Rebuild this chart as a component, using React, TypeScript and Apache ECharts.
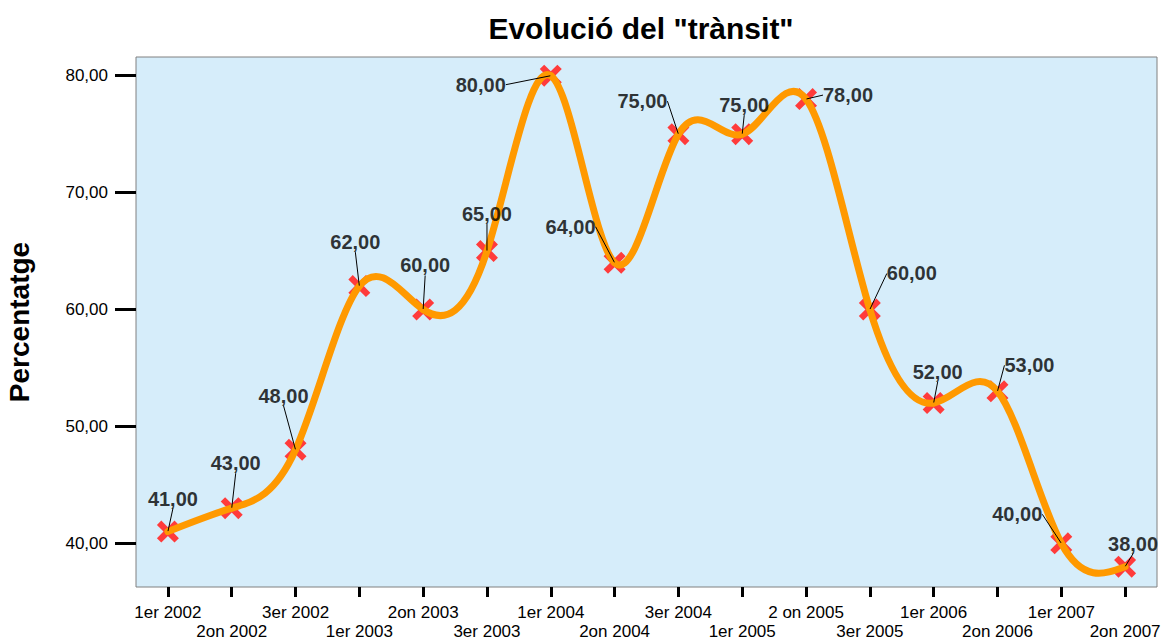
import React, { useEffect, useRef } from "react";
import * as echarts from "echarts";

const categories = [
  "1er 2002", "2on 2002", "3er 2002", "1er 2003", "2on 2003", "3er 2003",
  "1er 2004", "2on 2004", "3er 2004", "1er 2005", "2 on 2005", "3er 2005",
  "1er 2006", "2on 2006", "1er 2007", "2on 2007",
];
const values = [41, 43, 48, 62, 60, 65, 80, 64, 75, 75, 78, 60, 52, 53, 40, 38];
const yTicks = [40, 50, 60, 70, 80];

// label placement (styling): offset of each value label from its point, in px
const labelDx = [5, 4, -12, -4, 2, 0, -70, -44, -36, 2, 42, 42, 4, 32, -44, 8];
const labelDy = [-33, -45, -54, -44, -44, -37, 9, -36, -33, -29, -4, -36, -31, -26, -29, -23];

// natural cubic spline second derivatives (unit spacing) for the smooth line
function splineM(y: number[]): number[] {
  const n = y.length;
  const M = new Array(n).fill(0);
  const m = n - 2;
  if (m <= 0) return M;
  const a: number[] = [], b: number[] = [], c: number[] = [], d: number[] = [];
  for (let k = 0; k < m; k++) {
    const i = k + 1;
    a.push(1); b.push(4); c.push(1);
    d.push(6 * (y[i + 1] - 2 * y[i] + y[i - 1]));
  }
  for (let k = 1; k < m; k++) {
    const w = a[k] / b[k - 1];
    b[k] -= w * c[k - 1];
    d[k] -= w * d[k - 1];
  }
  const x = new Array(m).fill(0);
  x[m - 1] = d[m - 1] / b[m - 1];
  for (let k = m - 2; k >= 0; k--) x[k] = (d[k] - c[k] * x[k + 1]) / b[k];
  for (let k = 0; k < m; k++) M[k + 1] = x[k];
  return M;
}
const M2 = splineM(values);

const FONT = "'Liberation Sans', Arial, sans-serif";
const CROSS =
  "path://M0,2 L2,0 L5,3 L8,0 L10,2 L7,5 L10,8 L8,10 L5,7 L2,10 L0,8 L3,5 Z";

export default function App() {
  const ref = useRef<HTMLDivElement>(null);
  useEffect(() => {
    if (!ref.current) return;
    const chart = echarts.init(ref.current, null, { renderer: "svg" });
    chart.setOption({
      animation: false,
      backgroundColor: "#ffffff",
      textStyle: { fontFamily: FONT },
      title: {
        text: 'Evolució del "trànsit"',
        left: 636,
        textAlign: "center",
        top: 8,
        textStyle: { fontFamily: FONT, fontSize: 30, fontWeight: "bold", color: "#000" },
      },
      grid: {
        left: 136,
        right: 4,
        top: 57,
        bottom: 54,
        show: true,
        containLabel: false,
        outerBoundsMode: "none",
        backgroundColor: "#D6EDFA",
        borderColor: "#808080",
        borderWidth: 1,
      },
      xAxis: {
        type: "category",
        data: categories,
        boundaryGap: true,
        axisLine: { show: false },
        axisTick: {
          show: true,
          alignWithLabel: true,
          interval: 0,
          length: 10,
          lineStyle: { color: "#000", width: 3 },
        },
        axisLabel: {
          interval: 0,
          margin: 16,
          fontSize: 17,
          lineHeight: 19,
          color: "#000",
          fontFamily: FONT,
          formatter: (v: string, i: number) => (i % 2 === 0 ? v + "\n " : " \n" + v),
        },
        splitLine: { show: false },
      },
      yAxis: {
        type: "value",
        min: 36.26,
        max: 81.6,
        name: "Percentatge",
        nameLocation: "middle",
        nameRotate: 90,
        nameGap: 103,
        nameTextStyle: { fontFamily: FONT, fontSize: 28, fontWeight: "bold", color: "#000" },
        axisLine: { show: false },
        axisTick: {
          show: true,
          length: 21,
          customValues: yTicks,
          lineStyle: { color: "#000", width: 3 },
        },
        axisLabel: {
          customValues: yTicks,
          margin: 28,
          fontSize: 17,
          color: "#000",
          fontFamily: FONT,
          formatter: (v: number) => v.toFixed(2).replace(".", ","),
        },
        splitLine: { show: false },
      },
      series: [
        {
          type: "scatter",
          data: values,
          symbol: CROSS,
          symbolSize: 22,
          itemStyle: { color: "#FF3B3B", opacity: 1 },
          z: 2,
          silent: true,
        },
        {
          type: "custom",
          data: values.map((v, i) => [i, v]),
          encode: { x: 0, y: 1 },
          z: 3,
          silent: true,
          clip: true,
          renderItem: (params: any, api: any) => {
            const i = params.dataIndex;
            if (i >= values.length - 1) return null;
            const y0 = values[i], y1 = values[i + 1];
            const s0 = y1 - y0 - (2 * M2[i] + M2[i + 1]) / 6;
            const s1 = y1 - y0 + (M2[i] + 2 * M2[i + 1]) / 6;
            const p0 = api.coord([i, y0]);
            const p1 = api.coord([i + 1, y1]);
            const c0 = api.coord([i, y0 + s0 / 3]);
            const c1 = api.coord([i + 1, y1 - s1 / 3]);
            const dx = p1[0] - p0[0];
            return {
              type: "bezierCurve",
              shape: {
                x1: p0[0], y1: p0[1], x2: p1[0], y2: p1[1],
                cpx1: p0[0] + dx / 3, cpy1: c0[1],
                cpx2: p0[0] + (2 * dx) / 3, cpy2: c1[1],
              },
              style: { stroke: "#FF9900", lineWidth: 7, fill: null, lineCap: "round" },
            };
          },
        },
        {
          type: "scatter",
          data: values,
          symbolSize: 1,
          itemStyle: { color: "rgba(0,0,0,0)" },
          z: 5,
          silent: true,
          label: {
            show: true,
            position: "inside",
            fontFamily: FONT,
            fontSize: 20,
            fontWeight: "bold",
            color: "#000",
            textBorderWidth: 0,
            textBorderColor: "transparent",
            formatter: (p: any) => Number(p.value).toFixed(2).replace(".", ","),
          },
          labelLine: { show: true, lineStyle: { color: "#000", width: 1 } },
          labelLayout: (p: any) => ({ dx: labelDx[p.dataIndex], dy: labelDy[p.dataIndex] }),
        },
      ],
    });
    return () => chart.dispose();
  }, []);
  return (
    <div
      ref={ref}
      style={{ position: "absolute", left: 0, top: 0, width: 1161, height: 641 }}
    />
  );
}
